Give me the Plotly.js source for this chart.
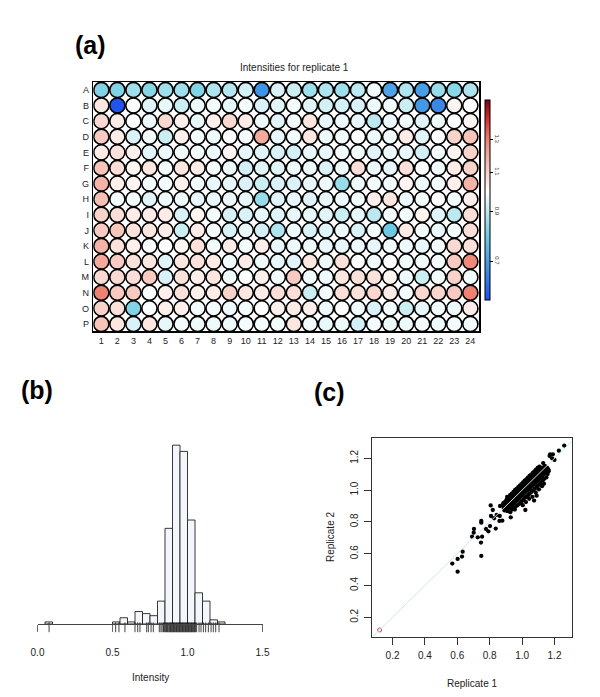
<!DOCTYPE html>
<html>
<head>
<meta charset="utf-8">
<script src="https://cdn.plot.ly/plotly-3.0.1.min.js"></script>
<style>
  html, body { margin: 0; padding: 0; background: #fff; }
  #fig { width: 600px; height: 697px; }
</style>
</head>
<body>
<div id="fig"></div>
<script>
// Figure: (a) plate heatmap, (b) intensity histogram with rug, (c) replicate scatter.

const rowLabels = ["A","B","C","D","E","F","G","H","I","J","K","L","M","N","O","P"];
const colLabels = ["1","2","3","4","5","6","7","8","9","10","11","12",
                   "13","14","15","16","17","18","19","20","21","22","23","24"];

// well intensities, replicate 1 (rows A..P, columns 1..24)
const plateA = [0.82,0.82,0.86,0.83,0.86,0.86,0.82,0.88,0.89,0.93,0.68,0.94, 0.92,0.86,0.88,0.86,0.90,0.98,0.71,0.88,0.70,0.85,0.83,0.88];
const plateB = [1.05,0.58,1.00,0.95,0.96,0.92,0.97,0.98,0.96,0.98,0.94,0.95, 0.98,0.95,0.93,0.93,0.94,0.97,0.98,0.92,0.69,0.66,1.02,1.00];
const plateC = [1.08,1.04,1.00,0.97,1.08,1.03,0.96,1.03,1.08,1.04,0.97,0.95, 0.98,1.05,0.96,0.97,0.96,0.90,0.97,0.98,0.95,0.97,1.00,1.02];
const plateD = [1.12,1.04,0.94,0.98,0.92,1.03,0.98,0.97,1.00,0.98,1.20,0.96, 0.98,1.05,0.97,0.98,1.00,0.97,0.98,1.04,0.95,1.00,1.10,1.14];
const plateE = [1.04,1.06,1.03,0.95,0.97,0.98,0.98,0.97,1.02,0.96,0.95,0.94, 0.93,0.96,0.96,0.98,0.98,0.95,0.97,0.96,0.93,0.98,1.02,1.10];
const plateF = [1.14,1.07,1.02,1.05,0.98,1.05,1.04,0.98,0.97,0.93,0.95,0.95, 0.97,0.97,0.94,0.97,1.07,0.97,0.96,1.06,1.00,0.98,1.04,1.10];
const plateG = [1.18,1.03,1.02,0.98,0.98,1.03,0.98,0.96,0.96,0.94,0.92,0.94, 0.94,0.96,0.97,0.85,0.97,0.98,0.98,1.02,0.97,0.98,1.03,1.18];
const plateH = [1.15,0.98,0.98,0.95,0.97,0.97,0.96,0.96,0.97,0.96,0.85,0.95, 0.96,0.95,0.96,0.97,0.98,1.03,1.05,0.97,0.98,1.00,0.98,1.03];
const plateI = [1.10,1.07,1.04,1.04,1.04,0.94,1.02,0.98,0.94,0.94,0.96,0.95, 0.96,0.96,0.95,0.92,0.96,0.90,0.98,0.98,1.02,0.95,0.90,1.07];
const plateJ = [1.12,1.13,1.06,1.05,1.04,0.92,1.04,0.98,0.94,0.96,0.93,0.88, 0.97,0.94,0.95,0.97,0.94,0.98,0.79,1.04,0.98,0.96,0.98,1.07];
const plateK = [1.18,1.06,1.03,0.99,1.00,1.02,1.06,0.98,1.04,0.98,1.03,0.96, 0.97,0.97,0.96,0.96,0.97,0.96,0.98,0.97,0.96,0.98,1.08,1.06];
const plateL = [1.20,1.12,1.06,1.05,0.95,1.05,1.06,1.04,0.98,1.04,0.97,0.96, 0.95,1.05,0.97,1.06,1.00,0.98,1.00,0.98,0.98,0.98,1.12,1.28];
const plateM = [1.08,1.08,1.07,1.12,0.94,1.06,1.03,1.05,0.98,1.00,1.03,0.98, 1.12,0.98,0.97,1.05,1.06,1.06,1.02,0.97,0.92,0.98,1.10,0.98];
const plateN = [1.30,1.12,1.12,0.99,1.03,1.06,1.03,1.04,1.10,1.05,1.04,1.07, 1.07,0.92,0.98,1.07,1.06,1.09,1.04,0.98,1.09,1.09,1.12,1.30];
const plateO = [1.10,1.06,0.82,0.99,1.03,1.03,0.98,0.98,0.97,0.98,1.00,1.03, 1.04,1.03,0.97,1.00,0.98,0.94,0.98,0.92,0.96,0.98,0.97,1.04];
const plateP = [1.14,1.05,0.94,1.05,0.96,0.98,0.97,0.97,0.97,0.98,0.98,0.98, 1.05,0.98,0.96,0.97,0.93,0.98,0.97,0.97,0.98,0.97,0.98,0.98];
const plate = [plateA,plateB,plateC,plateD,plateE,plateF,plateG,plateH,
               plateI,plateJ,plateK,plateL,plateM,plateN,plateO,plateP];

// colour key (log scale), intensity knots -> colours
const keyTicks = [0.7, 0.9, 1.1, 1.3];
const keyKnots = [0.575, 0.68, 0.8, 0.9, 0.96, 1.0, 1.05, 1.15, 1.3, 1.45, 1.59];
const keyColors = ["#1f4ff0","#3f94e6","#72cde3","#bce9f0","#e8f7fa","#ffffff",
                   "#fbe6e0","#f6c0b4","#ee8272","#d42a2a","#80000f"];

// histogram (b): bin starts, counts, rug
const binStarts = [0.05, 0.50,0.55,0.60,0.65,0.70,0.75,0.80,0.85,0.90,0.95,1.00,1.05,1.10,1.15,1.20];
const binCounts = [1,    1,   3,   1,   6,   5,   4,   11,  46,  86,  83,  50,  15,  11,  2,   1];
const rugValues = [0.077,0.521,0.543,0.583,0.650,0.668,0.683,0.728,0.739,0.757,0.772,
  0.812,0.823,0.831,0.840,0.846,0.853,0.860,0.866,0.871,0.877,0.882,0.887,0.892,0.897,
  0.902,0.907,0.912,0.917,0.922,0.927,0.932,0.937,0.942,0.947,0.952,0.957,0.962,0.967,
  0.972,0.977,0.982,0.987,0.992,0.997,1.002,1.007,1.012,1.017,1.022,1.027,1.032,1.037,
  1.042,1.047,1.053,1.061,1.077,1.090,1.106,1.121,1.139,1.157,1.172,1.188,1.210];

// scatter (c): [replicate 1, replicate 2]
const outlierPts = [
  [1.26,1.28],[1.227,1.248],[1.173,1.225],[1.19,1.225],[1.17,1.215],[1.2,1.19],[1.185,1.2],
  [1.13,1.17],[1.107,1.148],[0.806,0.904],[0.819,0.875],[0.864,0.90],[0.843,0.844],
  [0.862,0.837],[0.808,0.837],[0.827,0.823],[0.878,0.808],[0.86,0.806],[0.93,0.829],
  [0.748,0.806],[0.748,0.795],[0.802,0.774],[0.777,0.756],[0.792,0.741],[0.837,0.758],
  [0.703,0.756],[0.701,0.732],[0.691,0.707],[0.726,0.703],[0.753,0.707],[0.746,0.67],
  [0.748,0.586],[0.633,0.613],[0.629,0.582],[0.602,0.567],[0.569,0.538],[0.602,0.487],
  [1.074,0.934],[1.02,0.875],[0.955,0.878],[1.09,0.965],[1.135,1.04],[1.15,1.08],[1.165,1.12]
];
const cloudPts = [
  [0.882,0.902],[0.884,0.918],[0.887,0.884],[0.893,0.912],[0.896,0.928],[0.891,0.872],[0.899,0.895],
  [0.903,0.921],[0.905,0.941],[0.902,0.887],[0.908,0.958],[0.907,0.868],[0.913,0.903],[0.915,0.932],
  [0.918,0.948],[0.912,0.881],[0.922,0.913],[0.924,0.941],[0.926,0.968],[0.921,0.889],[0.927,0.861],
  [0.932,0.921],[0.934,0.953],[0.936,0.978],[0.931,0.899],[0.938,0.878],[0.943,0.931],[0.944,0.962],
  [0.947,0.988],[0.941,0.909],[0.946,0.882],[0.952,0.942],[0.955,0.971],[0.957,1.001],[0.951,0.919],
  [0.956,0.893],[0.962,0.951],[0.963,0.981],[0.966,1.008],[0.961,0.928],[0.968,0.902],[0.964,0.969],
  [0.972,0.962],[0.974,0.991],[0.976,1.018],[0.971,0.937],[0.977,0.909],[0.973,1.001],[0.982,0.971],
  [0.983,0.998],[0.986,1.028],[0.981,0.948],[0.988,0.918],[0.985,0.989],[0.992,0.981],[0.994,1.011],
  [0.996,1.038],[0.991,0.958],[0.997,0.929],[0.993,1.002],[1.002,0.992],[1.003,1.021],[1.006,1.049],
  [1.001,0.967],[1.007,0.938],[1.004,0.905],[1.012,1.003],[1.014,1.032],[1.016,1.059],[1.011,0.978],
  [1.017,0.951],[1.022,1.012],[1.023,1.042],[1.026,1.068],[1.021,0.988],[1.027,0.959],[1.024,0.925],
  [1.032,1.022],[1.034,1.051],[1.036,1.079],[1.031,0.997],[1.037,0.968],[1.042,1.031],[1.043,1.061],
  [1.046,1.089],[1.041,1.006],[1.047,0.978],[1.044,0.945],[1.052,1.041],[1.054,1.071],[1.056,1.098],
  [1.051,1.016],[1.057,0.988],[1.062,1.052],[1.063,1.081],[1.066,1.108],[1.061,1.027],[1.067,0.998],
  [1.064,0.958],[1.072,1.062],[1.074,1.091],[1.076,1.118],[1.071,1.036],[1.077,1.008],[1.082,1.071],
  [1.083,1.101],[1.086,1.128],[1.081,1.046],[1.087,1.018],[1.084,0.985],[1.092,1.081],[1.094,1.111],
  [1.096,1.139],[1.091,1.056],[1.097,1.028],[1.102,1.091],[1.104,1.121],[1.101,1.066],[1.107,1.038],
  [1.104,1.005],[1.112,1.101],[1.114,1.131],[1.111,1.076],[1.117,1.049],[1.122,1.111],[1.124,1.141],
  [1.121,1.086],[1.127,1.061],[1.123,1.025],[1.132,1.121],[1.134,1.098],[1.137,1.071],[1.142,1.131],
  [1.144,1.108],[1.141,1.152],[1.152,1.118],[1.154,1.142],[1.158,1.101],[1.162,1.131]
];
const controlPt = [0.12, 0.12];

// ---- build traces ----
const lo = Math.log(keyKnots[0]), hi = Math.log(keyKnots[keyKnots.length - 1]);
const colorscale = keyKnots.map((k, i) => [(Math.log(k) - lo) / (hi - lo), keyColors[i]]);

const wx = [], wy = [], wz = [], wt = [];
plate.forEach((row, r) => row.forEach((v, c) => {
  wx.push(c + 1); wy.push(r + 1); wz.push(Math.log(v));
  wt.push(rowLabels[r] + colLabels[c] + ": " + v.toFixed(2));
}));

const wells = {
  x: wx, y: wy, text: wt, hoverinfo: "text",
  type: "scatter", mode: "markers", xaxis: "x", yaxis: "y",
  marker: {
    size: 15.2, color: wz, colorscale: colorscale, cmin: lo, cmax: hi,
    line: { color: "#000", width: 1.6 },
    colorbar: {
      x: 485 / 600, xanchor: "left", xpad: 0, y: 1 - 200 / 697, yanchor: "middle", ypad: 0,
      thickness: 5, thicknessmode: "pixels", len: 200, lenmode: "pixels",
      outlinewidth: 1, outlinecolor: "#000",
      tickvals: keyTicks.map(Math.log), ticktext: keyTicks.map((t) => t.toFixed(1)),
      ticks: "outside", ticklen: 3, tickcolor: "#000", tickangle: 90,
      tickfont: { size: 6, color: "#333" },
    },
  },
};

const hist = {
  x: binStarts, y: binCounts, type: "bar", offset: 0, width: 0.05,
  xaxis: "x2", yaxis: "y2",
  marker: { color: "#f3f6fa", line: { color: "#222", width: 0.9 } },
  hoverinfo: "y",
};

const rug = {
  x: rugValues, y: rugValues.map(() => -1.6), type: "scatter", mode: "markers",
  xaxis: "x2", yaxis: "y2", cliponaxis: false, hoverinfo: "x",
  marker: { symbol: "line-ns-open", size: 7, color: "#111", line: { color: "#111", width: 0.8 } },
};

const allPts = outlierPts.concat(cloudPts);
const points = {
  x: allPts.map((p) => p[0]), y: allPts.map((p) => p[1]),
  type: "scatter", mode: "markers", xaxis: "x3", yaxis: "y3",
  marker: { size: 4.3, color: "#000" },
};
const control = {
  x: [controlPt[0]], y: [controlPt[1]], type: "scatter", mode: "markers",
  xaxis: "x3", yaxis: "y3",
  marker: { size: 4, color: "rgba(0,0,0,0)", line: { color: "#d04848", width: 1 } },
};
const diag = {
  x: [0.074, 1.316], y: [0.074, 1.316], type: "scatter", mode: "lines",
  xaxis: "x3", yaxis: "y3", hoverinfo: "skip",
  line: { color: "#bdecf0", width: 1 },
};

const font = "Liberation Sans, Arial, Helvetica, sans-serif";
const plainAxis = { showgrid: false, zeroline: false, ticks: "", fixedrange: true };

const layout = {
  width: 600, height: 697, margin: { l: 0, r: 0, t: 0, b: 0 },
  paper_bgcolor: "#fff", plot_bgcolor: "#fff", showlegend: false,
  font: { family: font, color: "#222", size: 10 },
  xaxis: {
    ...plainAxis, domain: [93.3 / 600, 479.3 / 600], range: [0.5, 24.56], anchor: "y",
    tickvals: colLabels.map(Number), ticktext: colLabels, tickfont: { size: 9 },
    showline: true, mirror: true, linecolor: "#000", linewidth: 1.5, ticklabelstandoff: 1,
  },
  yaxis: {
    ...plainAxis, domain: [1 - 331 / 697, 1 - 82 / 697], range: [16.45, 0.49], anchor: "x",
    tickvals: rowLabels.map((_, i) => i + 1), ticktext: rowLabels, tickfont: { size: 9 },
    showline: true, mirror: true, linecolor: "#000", linewidth: 1.5, ticklabelstandoff: 1,
  },
  xaxis2: {
    ...plainAxis, domain: [37.5 / 600, 262.5 / 600], range: [0, 1.5],
    anchor: "free", position: 1 - 624 / 697,
    tickvals: [0, 0.5, 1, 1.5], ticktext: ["0.0", "0.5", "1.0", "1.5"],
    ticks: "outside", ticklen: 7, tickcolor: "#444", tickwidth: 0.8,
    showline: true, linecolor: "#444", linewidth: 1, ticklabelstandoff: 12,
  },
  yaxis2: {
    ...plainAxis, domain: [1 - 632 / 697, 1 - 420 / 697], range: [-3.85, 98.1],
    anchor: "x2", visible: false,
  },
  xaxis3: {
    ...plainAxis, domain: [372.3 / 600, 572.3 / 600], range: [0.075, 1.31], anchor: "y3",
    tickvals: [0.2, 0.4, 0.6, 0.8, 1.0, 1.2], ticktext: ["0.2", "0.4", "0.6", "0.8", "1.0", "1.2"],
    ticks: "outside", ticklen: 7, tickcolor: "#333",
    showline: true, mirror: true, linecolor: "#333", linewidth: 1, ticklabelstandoff: 2,
  },
  yaxis3: {
    ...plainAxis, domain: [1 - 637.3 / 697, 1 - 438.3 / 697], range: [0.074, 1.326], anchor: "x3",
    tickvals: [0.2, 0.4, 0.6, 0.8, 1.0, 1.2], ticktext: ["0.2", "0.4", "0.6", "0.8", "1.0", "1.2"],
    ticks: "outside", ticklen: 7, tickcolor: "#333", tickangle: -90,
    showline: true, mirror: true, linecolor: "#333", linewidth: 1, ticklabelstandoff: 2,
  },
  annotations: [
    { text: "Intensities for replicate 1", x: 294 / 600, y: 1 - 67 / 697, font: { size: 10 } },
    { text: "<b>(a)</b>", x: 90 / 600, y: 1 - 45 / 697, font: { size: 25, color: "#000" } },
    { text: "<b>(b)</b>", x: 37 / 600, y: 1 - 390 / 697, font: { size: 25, color: "#000" } },
    { text: "<b>(c)</b>", x: 329 / 600, y: 1 - 392 / 697, font: { size: 25, color: "#000" } },
    { text: "Intensity", x: 150 / 600, y: 1 - 677 / 697, font: { size: 10 } },
    { text: "Replicate 1", x: 472 / 600, y: 1 - 683 / 697, font: { size: 10 } },
    { text: "Replicate 2", x: 330 / 600, y: 1 - 537 / 697, font: { size: 10 }, textangle: -90 },
  ].map((a) => ({ xref: "paper", yref: "paper", showarrow: false, xanchor: "center", yanchor: "middle", ...a })),
};

Plotly.newPlot("fig", [wells, hist, rug, points, control, diag], layout,
  { displayModeBar: false, staticPlot: true });
</script>
</body>
</html>
